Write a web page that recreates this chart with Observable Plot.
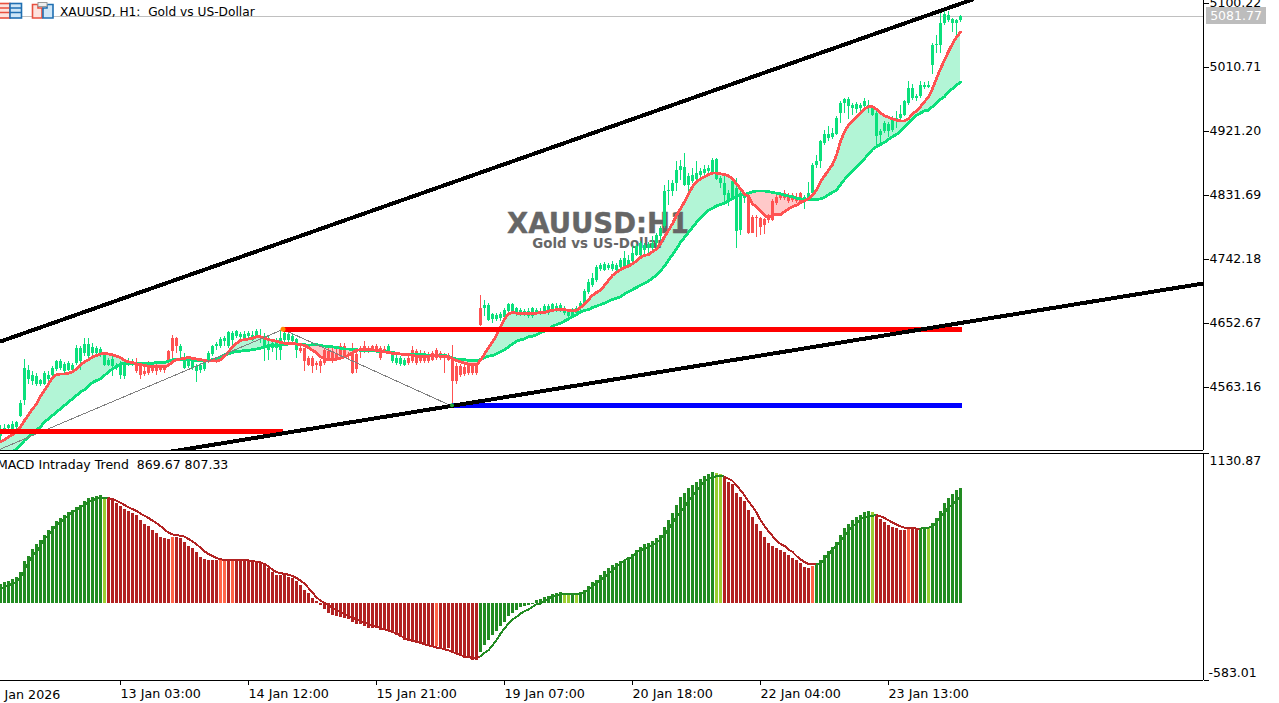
<!DOCTYPE html>
<html><head><meta charset="utf-8">
<style>
html,body{margin:0;padding:0;background:#fff;overflow:hidden}
#stage{position:relative;width:1279px;height:703px;overflow:hidden;font-family:"DejaVu Sans",sans-serif;color:#000}
#stage svg{display:block;background:transparent}
#pricePanel,#macdPanel{position:absolute;left:0}
#pricePanel{top:0}#macdPanel{top:452px}
.lbl{position:absolute;white-space:pre;font-size:12.2px;line-height:14px}
#tag{position:absolute;left:1206px;top:7px;width:60px;height:17px;background:#bdbdbd;color:#fff;font-size:12.5px;line-height:17px;text-align:center}
</style>
<script src="https://cdn.jsdelivr.net/npm/d3@7"></script>
<script src="https://cdn.jsdelivr.net/npm/@observablehq/plot@0.6"></script>
</head><body>
<div id="stage">
<div id="pricePanel"></div><div id="macdPanel"></div>
<svg id="icons" width="56" height="22" style="position:absolute;left:0;top:0">
<g fill="none" stroke-width="1.6">
<rect x="-3" y="3.5" width="13" height="14.5" fill="#fde3de" stroke="#e8503f"/><path d="M-3 8H10M-3 12.5H10" stroke="#e8503f"/>
<rect x="10" y="3.5" width="11.5" height="14.5" fill="#cfe6f7" stroke="#1f6fb2"/><path d="M10 8H21.5M10 12.5H21.5" stroke="#1f6fb2"/>
<path d="M32.5 4.5H38V8H42V18H32.5Z" fill="#fde3de" stroke="#e8503f"/>
<path d="M47 4.5H53V18H43V8H47Z" fill="#cfe6f7" stroke="#1f6fb2"/>
<rect x="38" y="2.5" width="9" height="4" fill="#eee" stroke="#999" stroke-width="1"/>
</g></svg>
<div class="lbl" style="left:60px;top:5px">XAUUSD, H1:  Gold vs US-Dollar</div>
<div class="lbl" style="left:-3px;top:458px;font-size:12.5px">MACD Intraday Trend  869.67 807.33</div>
<div id="tag">5081.77</div>
</div>
<script>
const open = [
4495,4503,4506,4505,4507,4522,4545,4575,4571,4568,
4568,4568,4575,4580,4588,4589,4585,4587,4587,4596,
4599,4610,4606,4610,4611,4608,4594,4594,4592,4589,
4580,4578,4595,4594,4594,4593,4585,4594,4592,4592,
4589,4589,4614,4631,4631,4613,4589,4592,4589,4585,
4587,4588,4601,4609,4620,4621,4628,4620,4629,4634,
4633,4630,4634,4629,4634,4631,4617,4615,4617,4617,
4615,4629,4629,4627,4615,4617,4617,4603,4603,4597,
4599,4615,4613,4613,4610,4620,4620,4608,4610,4609,
4617,4620,4617,4620,4620,4617,4616,4613,4599,4596,
4595,4594,4603,4615,4613,4611,4610,4608,4610,4615,
4610,4608,4608,4603,4593,4593,4591,4594,4594,4594,
4673,4673,4657,4658,4658,4659,4661,4669,4669,4666,
4665,4665,4662,4662,4666,4666,4669,4667,4671,4671,
4671,4667,4662,4663,4666,4673,4680,4696,4706,4713,
4728,4727,4729,4728,4727,4731,4732,4734,4739,4748,
4748,4755,4757,4757,4764,4774,4788,4837,4837,4848,
4867,4846,4846,4851,4854,4860,4862,4865,4862,4854,
4848,4832,4825,4827,4782,4783,4827,4832,4801,4801,
4799,4798,4803,4823,4829,4832,4834,4830,4831,4827,
4834,4825,4827,4834,4873,4879,4905,4912,4913,4917,
4946,4960,4956,4953,4952,4953,4956,4955,4944,4914,
4915,4921,4921,4922,4935,4939,4944,4960,4967,4967,
4970,4983,4983,5014,5041,5042,5072,5076,5072,5072,
5076];
const close = [
4503,4506,4510,4511,4514,4541,4589,4587,4580,4579,
4573,4583,4580,4590,4599,4600,4595,4596,4594,4618,
4618,4623,4623,4619,4617,4616,4609,4601,4602,4594,
4597,4594,4599,4598,4585,4580,4581,4582,4585,4586,
4587,4587,4600,4613,4620,4621,4603,4599,4601,4592,
4594,4599,4611,4621,4623,4630,4631,4640,4638,4641,
4637,4637,4638,4636,4641,4635,4635,4623,4624,4629,
4631,4638,4637,4634,4630,4613,4600,4594,4592,4594,
4593,4596,4601,4601,4601,4608,4606,4606,4582,4588,
4613,4613,4614,4616,4616,4603,4613,4621,4610,4603,
4603,4601,4596,4599,4596,4599,4599,4599,4601,4603,
4603,4603,4601,4572,4571,4580,4581,4582,4582,4583,
4650,4678,4678,4665,4664,4665,4671,4679,4679,4673,
4671,4670,4670,4673,4671,4670,4676,4677,4679,4677,
4678,4673,4669,4671,4673,4681,4697,4710,4716,4731,
4734,4735,4734,4735,4734,4741,4743,4741,4750,4760,
4764,4762,4763,4764,4776,4785,4837,4839,4848,4867,
4872,4871,4858,4860,4862,4865,4868,4869,4881,4882,
4855,4849,4835,4851,4841,4834,4832,4779,4779,4799,
4787,4790,4797,4797,4820,4827,4827,4823,4824,4823,
4822,4829,4835,4874,4879,4907,4917,4917,4918,4939,
4961,4966,4966,4957,4959,4958,4963,4957,4955,4946,
4921,4932,4931,4939,4939,4945,4963,4981,4981,4970,
4986,4986,4985,5042,5043,5072,5085,5083,5078,5077,
5081.77];
const high = [
4510,4512,4512,4515,4516,4545,4602,4594,4585,4582,
4575,4586,4585,4593,4601,4602,4598,4599,4597,4622,
4621,4631,4631,4624,4621,4619,4612,4604,4608,4597,
4600,4597,4603,4602,4603,4596,4592,4599,4596,4595,
4592,4593,4615,4636,4633,4623,4610,4603,4604,4595,
4597,4601,4614,4622,4626,4633,4634,4642,4641,4643,
4640,4642,4641,4641,4644,4644,4638,4634,4627,4632,
4641,4642,4641,4637,4632,4620,4618,4606,4606,4600,
4602,4618,4622,4618,4616,4624,4624,4612,4624,4615,
4620,4627,4621,4622,4623,4620,4620,4623,4613,4608,
4606,4604,4606,4620,4616,4615,4614,4612,4614,4617,
4614,4611,4610,4622,4596,4595,4594,4596,4596,4596,
4692,4685,4680,4666,4667,4668,4674,4681,4680,4675,
4674,4672,4673,4675,4674,4673,4679,4679,4681,4680,
4680,4676,4672,4674,4677,4683,4700,4714,4722,4734,
4737,4738,4737,4739,4737,4743,4753,4748,4760,4763,
4767,4765,4766,4774,4778,4788,4846,4853,4853,4879,
4881,4890,4862,4869,4879,4869,4874,4873,4883,4883,
4858,4858,4839,4855,4855,4838,4836,4834,4803,4803,
4801,4800,4805,4826,4832,4835,4839,4834,4835,4834,
4836,4831,4850,4877,4888,4908,4922,4928,4925,4942,
4963,4968,4969,4960,4962,4961,4968,4964,4958,4949,
4924,4935,4934,4942,4949,4958,4965,4991,4987,4973,
4991,4990,4991,5044,5055,5089,5091,5089,5079,5078,
5084];
const low = [
4488,4498,4500,4502,4503,4521,4538,4568,4566,4564,
4565,4566,4572,4577,4585,4587,4583,4585,4585,4594,
4587,4607,4603,4607,4609,4605,4592,4592,4579,4587,
4575,4575,4592,4592,4582,4574,4578,4580,4582,4580,
4584,4582,4595,4601,4610,4602,4588,4589,4587,4570,
4582,4586,4599,4607,4615,4618,4620,4617,4619,4631,
4629,4627,4631,4627,4631,4624,4600,4601,4612,4601,
4601,4626,4626,4624,4603,4610,4585,4593,4582,4587,
4582,4594,4599,4597,4599,4604,4603,4602,4581,4582,
4603,4610,4611,4613,4614,4601,4610,4610,4597,4594,
4592,4592,4594,4597,4594,4597,4597,4596,4599,4601,
4601,4582,4599,4540,4568,4577,4578,4580,4580,4580,
4648,4662,4655,4652,4656,4656,4659,4665,4667,4662,
4662,4662,4660,4660,4664,4664,4667,4664,4669,4668,
4668,4664,4658,4660,4664,4671,4678,4693,4703,4710,
4725,4725,4727,4725,4725,4729,4730,4729,4737,4746,
4746,4748,4750,4755,4757,4769,4785,4818,4830,4837,
4853,4844,4837,4849,4852,4857,4860,4862,4860,4853,
4841,4818,4816,4825,4757,4776,4820,4777,4778,4773,
4776,4777,4793,4795,4818,4825,4824,4820,4822,4821,
4820,4812,4825,4832,4869,4869,4902,4907,4910,4915,
4932,4946,4938,4944,4946,4946,4953,4946,4942,4902,
4902,4918,4913,4920,4925,4936,4942,4958,4965,4963,
4968,4980,4981,5001,5030,5030,5069,5073,5059,5054,
5074];
const fastMA = [
4487,4490,4494,4497,4502,4508,4517,4525,4533,4540,
4551,4559,4568,4577,4581,4582,4582,4583,4585,4589,
4595,4599,4602,4606,4608,4610,4611,4610,4609,4607,
4605,4601,4599,4598,4596,4595,4594,4593,4593,4593,
4592,4592,4594,4599,4602,4603,4604,4605,4604,4603,
4602,4601,4600,4601,4600,4602,4607,4613,4620,4625,
4629,4630,4631,4632,4634,4634,4632,4630,4629,4628,
4626,4625,4625,4625,4624,4623,4622,4619,4615,4612,
4606,4603,4602,4602,4603,4604,4606,4608,4612,4615,
4616,4616,4616,4616,4615,4614,4613,4612,4611,4611,
4610,4609,4609,4608,4607,4607,4607,4607,4608,4608,
4607,4607,4606,4603,4601,4599,4597,4596,4595,4595,
4601,4610,4619,4627,4636,4648,4659,4666,4668,4667,
4667,4667,4667,4667,4667,4668,4668,4670,4671,4672,
4672,4672,4671,4670,4671,4675,4680,4686,4692,4696,
4699,4706,4713,4720,4724,4728,4731,4733,4736,4740,
4745,4748,4749,4753,4757,4764,4774,4783,4792,4804,
4813,4823,4834,4844,4851,4855,4858,4861,4863,4863,
4862,4861,4859,4855,4848,4841,4834,4830,4820,4816,
4810,4804,4800,4804,4805,4805,4809,4813,4816,4818,
4822,4824,4827,4832,4839,4851,4859,4867,4875,4888,
4907,4921,4930,4936,4942,4947,4953,4956,4956,4952,
4947,4943,4941,4939,4937,4936,4936,4939,4946,4950,
4956,4963,4969,4981,4995,5009,5021,5033,5044,5053,
5060];
const slowMA = [
4461,4463,4468,4473,4477,4483,4489,4494,4498,4504,
4508,4515,4519,4524,4529,4533,4538,4543,4547,4552,
4557,4560,4565,4570,4573,4575,4580,4585,4589,4592,
4596,4597,4597,4597,4597,4597,4597,4597,4597,4598,
4598,4598,4600,4602,4602,4602,4602,4602,4601,4601,
4601,4601,4601,4602,4602,4605,4609,4610,4612,4614,
4614,4615,4615,4616,4617,4618,4620,4621,4622,4622,
4622,4623,4624,4624,4624,4623,4623,4622,4623,4623,
4622,4621,4621,4620,4619,4618,4617,4617,4616,4616,
4615,4615,4615,4615,4614,4614,4614,4613,4612,4611,
4610,4610,4609,4609,4609,4609,4609,4608,4608,4608,
4608,4608,4607,4604,4603,4602,4602,4601,4601,4601,
4602,4605,4607,4608,4610,4613,4616,4620,4624,4628,
4630,4631,4634,4635,4637,4640,4642,4645,4649,4651,
4653,4656,4659,4662,4665,4669,4671,4672,4675,4677,
4679,4681,4684,4686,4688,4690,4694,4697,4700,4703,
4706,4709,4712,4716,4720,4726,4733,4741,4749,4757,
4766,4773,4780,4787,4794,4800,4806,4811,4814,4817,
4819,4821,4824,4827,4830,4832,4833,4835,4837,4838,
4838,4838,4837,4836,4835,4834,4832,4831,4830,4828,
4827,4826,4826,4826,4826,4827,4829,4833,4836,4839,
4847,4854,4860,4866,4872,4877,4883,4890,4896,4900,
4903,4906,4910,4914,4917,4922,4928,4933,4938,4944,
4947,4950,4951,4956,4961,4966,4970,4977,4981,4986,
4990];
const macdHist = [
140,156,166,181,196,231,312,354,405,445,
475,513,548,583,619,639,664,684,702,722,
739,765,790,797,805,812,785,795,782,757,
727,709,694,679,659,626,596,576,551,526,
500,488,483,500,495,488,458,430,412,382,
349,332,324,324,324,324,324,324,324,324,
324,324,319,312,309,299,286,261,231,211,
211,206,198,186,166,135,98,72,35,10,
-15,-45,-78,-90,-103,-108,-115,-123,-148,-163,
-163,-176,-188,-188,-191,-206,-206,-216,-224,-246,
-259,-279,-292,-292,-304,-309,-317,-329,-337,-324,
-334,-342,-345,-375,-380,-400,-418,-420,-435,-433,
-375,-317,-279,-241,-211,-178,-143,-103,-78,-58,
-35,-27,-15,-8,23,30,43,53,68,76,
81,66,61,73,63,81,98,129,154,174,
212,242,262,287,300,315,325,345,370,395,
420,443,451,466,488,513,571,627,677,740,
798,828,866,891,911,934,954,974,987,979,
972,946,911,896,831,795,770,702,649,596,
544,498,451,430,413,400,383,362,340,325,
302,272,264,279,294,325,362,393,420,461,
513,566,596,627,647,664,687,695,687,667,
634,612,589,574,566,551,551,564,566,559,
566,566,564,602,639,695,755,793,823,853,
869.67];
const macdSignal = [
110,123,135,148,161,198,249,312,362,387,
437,488,513,551,588,614,639,664,689,702,
727,744,765,777,790,795,795,792,787,775,
760,742,724,712,697,677,661,644,624,604,
583,558,533,520,515,510,503,485,468,445,
420,392,372,357,342,332,327,324,324,324,
324,324,324,319,314,309,296,279,254,234,
229,221,216,206,191,171,148,115,80,45,
20,5,-15,-35,-53,-68,-80,-95,-108,-123,
-133,-146,-158,-168,-178,-186,-196,-206,-216,-229,
-244,-261,-274,-284,-292,-299,-309,-317,-324,-334,
-339,-347,-355,-367,-380,-390,-400,-407,-412,-412,
-400,-375,-355,-317,-279,-229,-191,-153,-123,-103,
-78,-60,-47,-27,-7,-2,18,36,53,58,
66,68,71,71,71,73,83,104,129,154,
174,199,224,249,275,300,325,338,350,385,
400,413,423,438,458,483,518,559,604,652,
690,730,770,810,846,886,921,936,951,959,
961,956,941,924,891,853,815,770,730,685,
627,584,544,508,473,448,433,405,388,357,
332,312,297,294,294,299,332,367,408,438,
468,506,546,584,602,632,652,657,662,664,
657,644,627,609,594,581,571,569,569,564,
564,569,571,576,609,652,682,727,745,778,
807.33];
const stateRuns = [["g",26],["l",1],["r",16],["o",1],["r",11],["o",2],["r",1],["o",1],["r",50],["o",1],["r",10],["g",21],["l",2],["g",1],["l",1],["g",34],["l",2],["r",22],["o",1],["g",14],["l",1],["r",8],["o",1],["r",2],["g",2],["l",1],["g",8]];
const stateColors = {g:"#228b22",l:"#9acd32",r:"#b22222",o:"#ff6347"};

const priceTicks = [5100.22,5010.71,4921.20,4831.69,4742.18,4652.67,4563.16];
const macdTicks = [1130.87,-583.01];
const timeBars = [30,62,94,126,158,190,222];
const timeLabels = ["13 Jan 03:00","14 Jan 12:00","15 Jan 21:00","19 Jan 07:00","20 Jan 18:00","22 Jan 04:00","23 Jan 13:00"];
const firstDate = "Jan 2026";
const firstDateBar = 1;
const lastPrice = 5081.77;

const channelUpper = {bars:[0,243], prices:[4627.5,5105.8]};
const channelLower = {bars:[42.875,300.7], prices:[4473.7,4708.6]};
const levelHighA = {bars:[70.625,240.375], price:4644.6};
const levelHighB = {bars:[0,70.625], price:4501.2};
const levelLow = {bars:[112.875,240.375], price:4538.2};
const zigzag = {bars:[0,70.625,112.875], prices:[4477,4644.3,4537]};

const states = stateRuns.flatMap(([s,n])=>Array(n).fill(s));
const bars = d3.range(close.length).map(i=>({
  i, open:open[i], high:high[i], low:low[i], close:close[i],
  fast:fastMA[i], slow:slowMA[i], top:Math.max(fastMA[i],slowMA[i]),
  hist:macdHist[i], signal:macdSignal[i],
  candleColor: close[i]>=open[i] ? "#0be07c" : "#ff5252",
  barColor: stateColors[states[i]],
  lineColor: (states[i]==="g"||states[i]==="l") ? "#228b22" : "#b22222"
}));
const pair = (a,b)=>a.map((v,k)=>({i:v,p:b[k]}));
const crisp = {shapeRendering:"crispEdges"};
const font = {fontFamily:'"DejaVu Sans",sans-serif', fontSize:"12px", background:"transparent", overflow:"hidden"};
const xDomain = [0,1203/4];

const price = Plot.plot({
  width:1279, height:451, marginTop:0, marginRight:76, marginBottom:1, marginLeft:0,
  x:{domain:xDomain, axis:null},
  y:{domain:[4475.0,5104.4], label:null},
  color:{type:"identity"},
  style:font,
  marks:[
    Plot.areaY(bars,{x:"i",y1:"slow",y2:"top",fill:"#b2f5d6",clip:true,...crisp}),
    Plot.areaY(bars,{x:"i",y1:"fast",y2:"top",fill:"#ffc9c9",clip:true,...crisp}),
    Plot.text(["XAUUSD:H1"],{x:[149.4],y:[4791],text:d=>d,fill:"#666",stroke:"#666",strokeWidth:0.4,fontSize:27.5,fontWeight:"bold",fontFamily:"DejaVu Sans"}),
    Plot.text(["Gold vs US-Dollar"],{x:[149.4],y:[4764.5],text:d=>d,fill:"#666",fontSize:13.4,fontWeight:"bold",fontFamily:"DejaVu Sans"}),
    Plot.ruleY([lastPrice],{stroke:"#c0c0c0",...crisp}),
    Plot.ruleX(bars,{x:"i",y1:"low",y2:"high",stroke:"candleColor",strokeWidth:1,clip:true,...crisp}),
    Plot.rect(bars,{x1:d=>d.i-0.25,x2:d=>d.i+0.5,y1:"open",y2:"close",fill:"candleColor",clip:true,...crisp}),
    Plot.line(bars,{x:"i",y:"slow",stroke:"#0be07c",strokeWidth:2.8,clip:true,...crisp}),
    Plot.line(bars,{x:"i",y:"fast",stroke:"#ff5252",strokeWidth:2.8,clip:true,...crisp}),
    Plot.line(pair(zigzag.bars,zigzag.prices),{x:"i",y:"p",stroke:"#808080",strokeWidth:1,clip:true,...crisp}),
    Plot.ruleY([levelHighA.price],{x1:levelHighA.bars[0],x2:levelHighA.bars[1],stroke:"#ff0000",strokeWidth:5,...crisp}),
    Plot.ruleY([levelHighB.price],{x1:levelHighB.bars[0],x2:levelHighB.bars[1],stroke:"#ff0000",strokeWidth:5,...crisp}),
    Plot.ruleY([levelLow.price],{x1:levelLow.bars[0],x2:levelLow.bars[1],stroke:"#0000ff",strokeWidth:5,...crisp}),
    Plot.dot([0],{x:[levelHighA.bars[0]],y:[levelHighA.price],r:2.5,fill:"#ff8c00",stroke:"none"}),
    Plot.line(pair(channelUpper.bars,channelUpper.prices),{x:"i",y:"p",stroke:"#000",strokeWidth:4,clip:true,...crisp}),
    Plot.line(pair(channelLower.bars,channelLower.prices),{x:"i",y:"p",stroke:"#000",strokeWidth:4,clip:true,...crisp}),
    Plot.dot([0],{x:[levelLow.bars[0]],y:[levelLow.price],r:2,fill:"#1fae3a",stroke:"none"}),
    Plot.axisY({anchor:"right",ticks:priceTicks,tickFormat:d=>d.toFixed(2),tickSize:5,tickPadding:1,label:null,fontSize:12.5,stroke:"#000",...crisp}),
    Plot.ruleX([xDomain[1]],{stroke:"#000",...crisp}),
    Plot.ruleY([4475.0],{stroke:"#000",...crisp})
  ]
});
document.getElementById("pricePanel").append(price);

const macd = Plot.plot({
  width:1279, height:251, marginTop:1, marginRight:76, marginBottom:23, marginLeft:0,
  x:{domain:xDomain},
  y:{domain:[-583.01,1130.87]},
  color:{type:"identity"},
  style:font,
  marks:[
    Plot.rect(bars,{x1:d=>d.i-0.25,x2:d=>d.i+0.5,y1:0,y2:"hist",fill:"barColor",...crisp}),
    Plot.line(bars,{x:"i",y:"signal",z:null,stroke:"lineColor",strokeWidth:2,...crisp}),
    Plot.axisY({anchor:"right",ticks:macdTicks,tickFormat:()=>"",tickSize:5,label:null,...crisp}),
    Plot.axisX({anchor:"bottom",ticks:timeBars,tickFormat:d=>timeLabels[timeBars.indexOf(d)],tickSize:5,tickPadding:3,label:null,textAnchor:"start",fontSize:12.7,...crisp}),
    Plot.text([firstDate],{x:[firstDateBar],y:[-583.01],text:d=>d,textAnchor:"start",lineAnchor:"top",dy:9,fontSize:12.7}),
    Plot.ruleX([xDomain[1]],{y1:-583.01,y2:1130.87,stroke:"#000",...crisp}),
    Plot.ruleY(macdTicks,{stroke:"#000",...crisp}),
    Plot.text(macdTicks,{x:[xDomain[1],xDomain[1]],y:d=>d,text:d=>d.toFixed(2),textAnchor:"start",dx:6,dy:d=>0,fontSize:12.5,filter:d=>false}),
    Plot.text([macdTicks[0]],{x:[xDomain[1]],y:d=>d,text:d=>d.toFixed(2),textAnchor:"start",dx:6,dy:7,fontSize:12.5}),
    Plot.text([macdTicks[1]],{x:[xDomain[1]],y:d=>d,text:d=>d.toFixed(2),textAnchor:"start",dx:5,dy:-8,fontSize:12.5})
  ]
});
document.getElementById("macdPanel").append(macd);
</script>
</body></html>
